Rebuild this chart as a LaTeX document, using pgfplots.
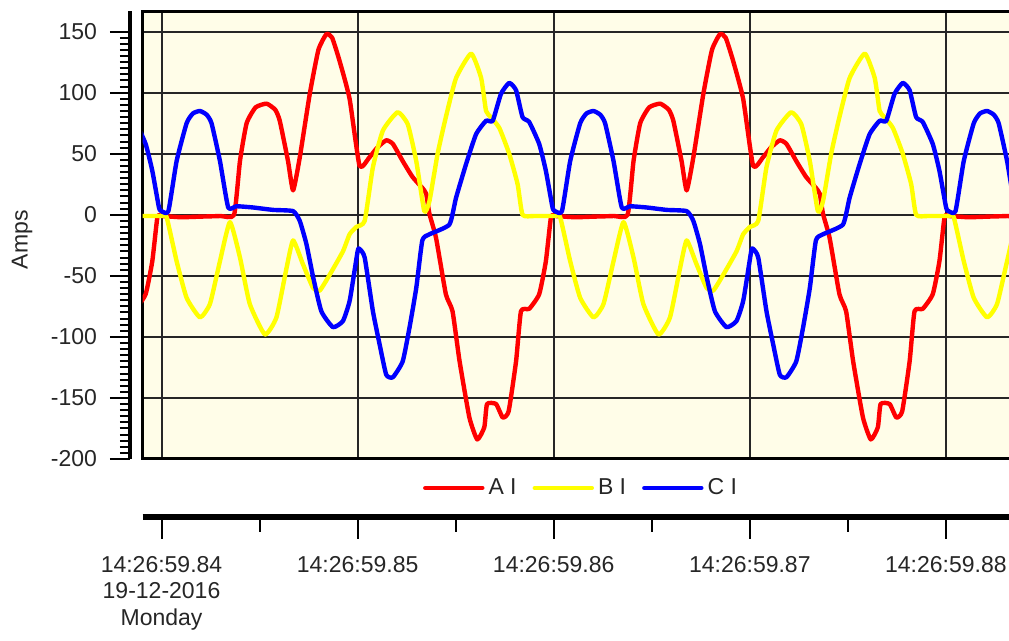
\documentclass[border=0pt]{standalone}
\usepackage{fontspec}
\setmainfont{Liberation Sans}
\usepackage{pgfplots}
\pgfplotsset{compat=1.18}
\definecolor{bgc}{RGB}{255,253,232}
\definecolor{cred}{RGB}{255,0,0}
\definecolor{cyel}{RGB}{255,255,0}
\definecolor{cblu}{RGB}{0,0,255}
\newcommand{\tfont}{\fontsize{11.5pt}{13.25pt}\selectfont}
\begin{document}
\tfont
\begin{tikzpicture}
\path[use as bounding box] (0pt,0pt) rectangle (504.5pt,320.5pt);
\clip (0pt,0pt) rectangle (504.5pt,320.5pt);
% main plot
\begin{axis}[
  at={(71.25pt,91pt)}, anchor=south west, scale only axis,
  width=434.75pt, height=223.75pt,
  xmin=-0.97, xmax=43.37, ymin=-200, ymax=166.5,
  axis background/.style={fill=bgc},
  axis line style={line width=1.5pt, black},
  xtick={0,10,20,30,40}, ytick={-150,-100,...,150},
  xticklabels={}, yticklabels={}, major tick length=0pt,
  grid=major, major grid style={black!85, line width=1pt},
  legend columns=3,
  legend style={draw=none, fill=none, at={(0.5055,-0.0648)}, anchor=center,
    font=\tfont, text=black!85,
    /tikz/every even column/.append style={column sep=6pt}},
  legend image code/.code={\draw[#1] (0pt,0pt) -- (28.5pt,0pt);},
  every axis plot/.append style={line width=2.2pt, line join=round, line cap=round, smooth, tension=0.3},
]
\addplot[cred] coordinates {
(-1.99,-120)(-1.74,-79)(-1.32,-77)(-0.81,-65)(-0.47,-38)(-0.21,-2)
(0,-1)(1,-2)(2,-1.5)(3,-1)(3.7,0)(4.0,44)(4.34,75)(4.8,88)(5.36,91)(5.8,86)(6.03,77)(6.45,44)(6.71,20)(7.05,47)(7.56,99)(8.0,135)(8.41,148)(8.7,145)(9.08,126)(9.59,95)(10.1,40)(10.6,47)(11.0,55)(11.46,61)(11.8,58)(12.3,44)(12.8,31)(13.3,22)(13.5,17)(13.66,1)(14.0,-19)(14.5,-65)(14.84,-79)(15.2,-120)(15.7,-166)(16.1,-184)(16.46,-174)(16.6,-155)(17.06,-155)(17.4,-166)(17.7,-161)(18.08,-120)(18.33,-79)(18.75,-77)(19.26,-65)(19.6,-38)(19.86,-2)
(20.07,-1)(21.07,-2)(22.07,-1.5)(23.07,-1)(23.77,0)(24.07,44)(24.41,75)(24.87,88)(25.43,91)(25.87,86)(26.10,77)(26.52,44)(26.78,20)(27.12,47)(27.63,99)(28.07,135)(28.48,148)(28.77,145)(29.15,126)(29.66,95)(30.17,40)(30.67,47)(31.07,55)(31.53,61)(31.87,58)(32.37,44)(32.87,31)(33.37,22)(33.57,17)(33.73,1)(34.07,-19)(34.57,-65)(34.91,-79)(35.27,-120)(35.77,-166)(36.17,-184)(36.53,-174)(36.67,-155)(37.13,-155)(37.47,-166)(37.77,-161)(38.15,-120)(38.40,-79)(38.82,-77)(39.33,-65)(39.67,-38)(39.93,-2)
(40.14,-1)(41.14,-2)(42.14,-1.5)(43.14,-1)(43.84,0)(44.14,44)
};
\addlegendentry{A I}
\addplot[cyel] coordinates {
(-1.91,25)(-1.66,0)(-1.07,-1)
(0,-1)(0.26,-2)(0.77,-38)(1.28,-68)(1.96,-84)(2.47,-73)(2.98,-38)(3.49,-6)(4.0,-35)(4.5,-73)(5.27,-98)(5.86,-84)(6.37,-44)(6.71,-21)(7.2,-40)(7.73,-60)(8.07,-62)(8.58,-49)(9.25,-30)(9.59,-16)(9.93,-10)(10.36,-5)(10.78,39)(11.29,69)(12.04,84)(12.56,74)(12.99,44)(13.4,3)(13.66,11)(14.08,50)(14.5,80)(15.02,112)(15.79,132)(16.3,112)(16.55,85)(16.8,80)(17.23,71)(17.73,50)(18.16,25)(18.41,0)(19.0,-1)
(20.07,-1)(20.33,-2)(20.84,-38)(21.35,-68)(22.03,-84)(22.54,-73)(23.05,-38)(23.56,-6)(24.07,-35)(24.57,-73)(25.34,-98)(25.93,-84)(26.44,-44)(26.78,-21)(27.27,-40)(27.80,-60)(28.14,-62)(28.65,-49)(29.32,-30)(29.66,-16)(30.00,-10)(30.43,-5)(30.85,39)(31.36,69)(32.11,84)(32.63,74)(33.06,44)(33.47,3)(33.73,11)(34.15,50)(34.57,80)(35.09,112)(35.86,132)(36.37,112)(36.62,85)(36.87,80)(37.30,71)(37.80,50)(38.23,25)(38.48,0)(39.07,-1)
(40.14,-1)(40.40,-2)(40.91,-38)(41.42,-68)(42.10,-84)(42.61,-73)(43.12,-38)(43.63,-6)(44.14,-35)
};
\addlegendentry{B I}
\addplot[cblu] coordinates {
(-1.99,102)(-1.66,80)(-1.32,76)(-0.81,58)(-0.47,36)(-0.13,6)
(0,3)(0.35,3)(0.77,44)(1.28,75)(1.6,83)(1.96,85)(2.3,82)(2.55,75)(2.98,44)(3.4,6)(3.83,7)(4.66,6)(5.69,4)(6.71,3)(7.05,-5)(7.39,-24)(7.73,-51)(8.15,-79)(8.74,-92)(9.25,-87)(9.6,-70)(10.0,-30)(10.1,-28)(10.36,-35)(10.78,-79)(11.12,-106)(11.46,-131)(11.8,-133)(12.3,-120)(12.65,-92)(12.99,-60)(13.3,-21)(13.66,-16)(14.68,-8)(15.02,14)(15.53,41.5)(16.04,66)(16.55,77)(16.89,77)(17.31,99)(17.73,108)(18.08,102)(18.41,80)(18.75,76)(19.26,58)(19.6,36)(19.94,6)
(20.07,3)(20.42,3)(20.84,44)(21.35,75)(21.67,83)(22.03,85)(22.37,82)(22.62,75)(23.05,44)(23.47,6)(23.90,7)(24.73,6)(25.76,4)(26.78,3)(27.12,-5)(27.46,-24)(27.80,-51)(28.22,-79)(28.81,-92)(29.32,-87)(29.67,-70)(30.07,-30)(30.17,-28)(30.43,-35)(30.85,-79)(31.19,-106)(31.53,-131)(31.87,-133)(32.37,-120)(32.72,-92)(33.06,-60)(33.37,-21)(33.73,-16)(34.75,-8)(35.09,14)(35.60,41.5)(36.11,66)(36.62,77)(36.96,77)(37.38,99)(37.80,108)(38.15,102)(38.48,80)(38.82,76)(39.33,58)(39.67,36)(40.01,6)
(40.14,3)(40.49,3)(40.91,44)(41.42,75)(41.74,83)(42.10,85)(42.44,82)(42.69,75)(43.12,44)(43.54,6)(43.97,7)
};
\addlegendentry{C I}
\end{axis}
% left value axis
\begin{axis}[
  at={(65pt,91pt)}, anchor=south west, scale only axis,
  width=10pt, height=223.75pt,
  xmin=0, xmax=1, ymin=-200, ymax=166.5,
  axis x line=none, axis y line=left,
  axis line style={line width=2pt, black, -},
  ytick={-200,-150,...,150}, minor y tick num=9,
  tick align=outside, major tick length=10pt, minor tick length=5pt,
  every tick/.style={black, line width=1pt},
  yticklabel style={/pgf/number format/assume math mode=true, font=\tfont, color=black!85, xshift=-2.5pt},
  ylabel={Amps},
  every axis y label/.style={at={(axis description cs:0,0.49)}, xshift=-54pt, rotate=90, anchor=center, font=\tfont, color=black!85},
]
\end{axis}
% bottom time axis
\begin{axis}[
  at={(71.25pt,62pt)}, anchor=south west, scale only axis,
  width=434.75pt, height=5pt,
  xmin=-0.97, xmax=43.37, ymin=0, ymax=1,
  axis y line=none, axis x line=bottom,
  axis line style={line width=3pt, black, -},
  xtick={0,10,20,30,40}, minor xtick={5,15,25,35},
  tick align=outside, major tick length=11pt, minor tick length=7.5pt,
  every tick/.style={black, line width=1pt},
  xticklabels={{14:26:59.84\\19-12-2016\\Monday},{14:26:59.85},{14:26:59.86},{14:26:59.87},{14:26:59.88}},
  xticklabel style={align=center, anchor=north, font=\tfont, color=black!85, yshift=-4.5pt},
]
\end{axis}
\end{tikzpicture}
\end{document}
